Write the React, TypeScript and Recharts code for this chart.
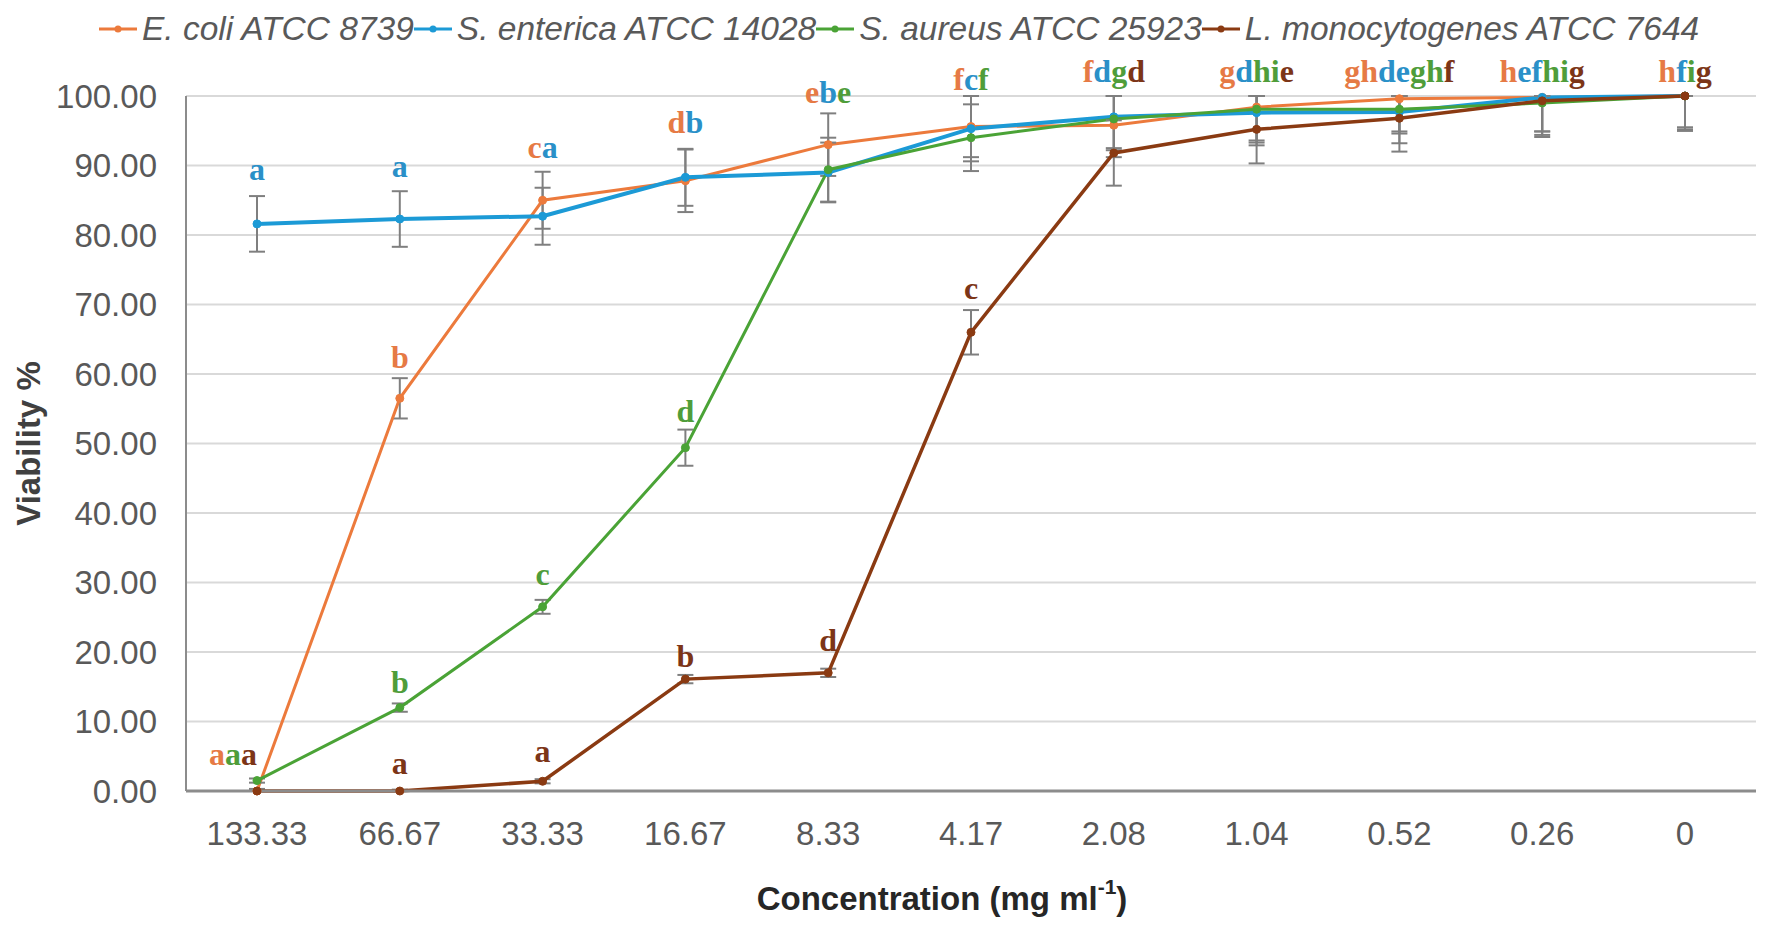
import {
  CartesianGrid,
  ErrorBar,
  Legend,
  Line,
  LineChart,
  ReferenceDot,
  XAxis,
  YAxis,
} from 'recharts';

const concentrations = ['133.33', '66.67', '33.33', '16.67', '8.33', '4.17', '2.08', '1.04', '0.52', '0.26', '0'];

const eColi = [0, 56.5, 85.0, 87.8, 93.0, 95.6, 95.8, 98.4, 99.6, 99.8, 100];
const eColiSd = [0.3, 2.9, 4.1, 4.5, 4.5, 4.4, 4.6, 4.8, 4.7, 4.9, 5.0];
const sEnterica = [81.6, 82.3, 82.7, 88.3, 89.0, 95.3, 97.0, 97.6, 97.7, 99.8, 100];
const sEntericaSd = [4.0, 4.0, 4.1, 4.1, 4.3, 4.7, 4.5, 4.7, 3.1, 4.9, 4.5];
const sAureus = [1.5, 12.0, 26.5, 49.4, 89.4, 94.0, 96.7, 98.1, 98.1, 99.0, 100];
const sAureusSd = [0.3, 0.6, 1.0, 2.6, 4.6, 4.8, 4.5, 4.8, 4.9, 4.6, 4.8];
const lMono = [0, 0, 1.4, 16.1, 17.0, 66.0, 91.8, 95.2, 96.8, 99.3, 100];
const lMonoSd = [0.2, 0.2, 0.3, 0.6, 0.6, 3.2, 4.7, 4.9, 4.8, 5.2, 5.0];

const yTicks = [0, 10, 20, 30, 40, 50, 60, 70, 80, 90, 100];

// significance letters: [text, series index], anchored at a viability value
const letterGroups = [
  { conc: '133.33', at: 87.9, parts: [['a', 1]] },
  { conc: '133.33', at: 3.7, parts: [['a', 0], ['a', 2], ['a', 3]], anchor: 'end' },
  { conc: '66.67', at: 88.3, parts: [['a', 1]] },
  { conc: '66.67', at: 60.9, parts: [['b', 0]] },
  { conc: '66.67', at: 14.1, parts: [['b', 2]] },
  { conc: '66.67', at: 2.5, parts: [['a', 3]] },
  { conc: '33.33', at: 91.1, parts: [['c', 0], ['a', 1]] },
  { conc: '33.33', at: 29.6, parts: [['c', 2]] },
  { conc: '33.33', at: 4.2, parts: [['a', 3]] },
  { conc: '16.67', at: 94.7, parts: [['d', 0], ['b', 1]] },
  { conc: '16.67', at: 53.1, parts: [['d', 2]] },
  { conc: '16.67', at: 17.8, parts: [['b', 3]] },
  { conc: '8.33', at: 99.0, parts: [['e', 0], ['b', 1], ['e', 2]] },
  { conc: '8.33', at: 20.2, parts: [['d', 3]] },
  { conc: '4.17', at: 100.9, parts: [['f', 0], ['c', 1], ['f', 2]] },
  { conc: '4.17', at: 70.8, parts: [['c', 3]] },
  { conc: '2.08', at: 102.0, parts: [['f', 0], ['d', 1], ['g', 2], ['d', 3]] },
  { conc: '1.04', at: 102.0, parts: [['g', 0], ['d', 1], ['hi', 2], ['e', 3]] },
  { conc: '0.52', at: 102.0, parts: [['gh', 0], ['de', 1], ['gh', 2], ['f', 3]] },
  { conc: '0.26', at: 102.0, parts: [['h', 0], ['ef', 1], ['hi', 2], ['g', 3]] },
  { conc: '0', at: 102.0, parts: [['h', 0], ['f', 1], ['i', 2], ['g', 3]] },
];

const series = [
  { key: 'ecoli', name: 'E. coli ATCC 8739', values: eColi, sd: eColiSd, color: '#EC7A3C', width: 3 },
  { key: 'senterica', name: 'S. enterica ATCC 14028', values: sEnterica, sd: sEntericaSd, color: '#1C9AD6', width: 4 },
  { key: 'saureus', name: 'S. aureus ATCC 25923', values: sAureus, sd: sAureusSd, color: '#4AA336', width: 3 },
  { key: 'lmono', name: 'L. monocytogenes ATCC 7644', values: lMono, sd: lMonoSd, color: '#8A3A12', width: 3.5 },
];

const letterColors = ['#E67A45', '#2A90C8', '#4F9D3A', '#7C3517'];

const data = concentrations.map((conc, i) => {
  const row: Record<string, any> = { conc };
  series.forEach((s) => {
    const v = s.values[i];
    row[s.key] = v;
    // Excel clips the bars at the axis range
    row[s.key + 'Err'] = [Math.min(s.sd[i], v), Math.min(s.sd[i], 100 - v)];
  });
  return row;
});

const sans = '"Liberation Sans", Arial, sans-serif';
const serif = '"Liberation Serif", "Times New Roman", serif';

function renderLegend() {
  return (
    <div
      style={{
        display: 'flex',
        alignItems: 'center',
        height: 46,
        paddingLeft: 99,
        fontFamily: sans,
        fontStyle: 'italic',
        fontSize: 33.5,
        color: '#595959',
        whiteSpace: 'nowrap',
      }}
    >
      {series.map((s) => (
        <div key={s.key} style={{ display: 'flex', alignItems: 'center' }}>
          <svg width={40} height={12}>
            <line x1={0} y1={6} x2={38} y2={6} stroke={s.color} strokeWidth={3} />
            <circle cx={19} cy={6} r={3.5} fill={s.color} />
          </svg>
          <span style={{ marginLeft: 3 }}>{s.name}</span>
        </div>
      ))}
    </div>
  );
}

function LetterLabel({ cx, cy, group }: any) {
  return (
    <text
      x={cx}
      y={cy}
      textAnchor={group.anchor || 'middle'}
      fontFamily={serif}
      fontWeight="bold"
      fontSize={32}
    >
      {group.parts.map(([t, idx]: [string, number], i: number) => (
        <tspan key={i} fill={letterColors[idx]}>
          {t}
        </tspan>
      ))}
    </text>
  );
}

export default function App() {
  return (
    <div style={{ width: 1772, height: 929, background: '#fff' }}>
      <style>{'body{margin:0}'}</style>
      <LineChart width={1772} height={929} data={data} margin={{ top: 50, right: 16, bottom: 18, left: 0 }}>
        <CartesianGrid vertical={false} stroke="#D9D9D9" strokeWidth={2} />
        <XAxis
          dataKey="conc"
          height={120}
          padding={{ left: 71, right: 71 }}
          tickLine={false}
          tickSize={0}
          tickMargin={31}
          axisLine={{ stroke: '#8C8C8C', strokeWidth: 3 }}
          tick={{ fill: '#595959', fontSize: 33, fontFamily: sans }}
          label={{
            content: ({ viewBox }: any) => (
              <text
                x={viewBox.x + viewBox.width / 2 - 29}
                y={viewBox.y + 107}
                textAnchor="middle"
                dominantBaseline="central"
                fontFamily={sans}
                fontWeight="bold"
                fontSize={33}
                fill="#262626"
              >
                <tspan>Concentration (mg ml</tspan>
                <tspan dy={-12} fontSize={21}>-1</tspan>
                <tspan dy={12}>)</tspan>
              </text>
            ),
          }}
        />
        <YAxis
          width={186}
          domain={[0, 100]}
          ticks={yTicks}
          interval={0}
          tickFormatter={(v) => Number(v).toFixed(2)}
          tickLine={false}
          tickSize={0}
          tickMargin={29}
          axisLine={{ stroke: '#8C8C8C', strokeWidth: 2 }}
          tick={{ fill: '#595959', fontSize: 33, fontFamily: sans }}
          label={{
            content: ({ viewBox }: any) => {
              const cy = viewBox.y + viewBox.height / 2;
              return (
                <text
                  x={28}
                  y={cy}
                  transform={`rotate(-90 28 ${cy})`}
                  textAnchor="middle"
                  dominantBaseline="central"
                  fontFamily={sans}
                  fontWeight="bold"
                  fontSize={33}
                  fill="#404040"
                >
                  Viability %
                </text>
              );
            },
          }}
        />
        <Legend verticalAlign="top" align="left" content={renderLegend} wrapperStyle={{ top: 6, left: 0, width: 1772 }} />
        {series.map((s) => (
          <Line
            key={s.key}
            type="linear"
            dataKey={s.key}
            name={s.name}
            stroke={s.color}
            strokeWidth={s.width}
            dot={{ r: 4, fill: s.color, stroke: s.color, strokeWidth: 1 }}
            activeDot={false}
            isAnimationActive={false}
          >
            <ErrorBar
              dataKey={s.key + 'Err'}
              width={8}
              strokeWidth={2}
              stroke="#7F7F7F"
              direction="y"
              isAnimationActive={false}
            />
          </Line>
        ))}
        {letterGroups.map((g, i) => (
          <ReferenceDot
            key={i}
            x={g.conc}
            y={g.at}
            r={0}
            ifOverflow="visible"
            shape={(p: any) => <LetterLabel cx={p.cx} cy={p.cy} group={g} />}
          />
        ))}
      </LineChart>
    </div>
  );
}
